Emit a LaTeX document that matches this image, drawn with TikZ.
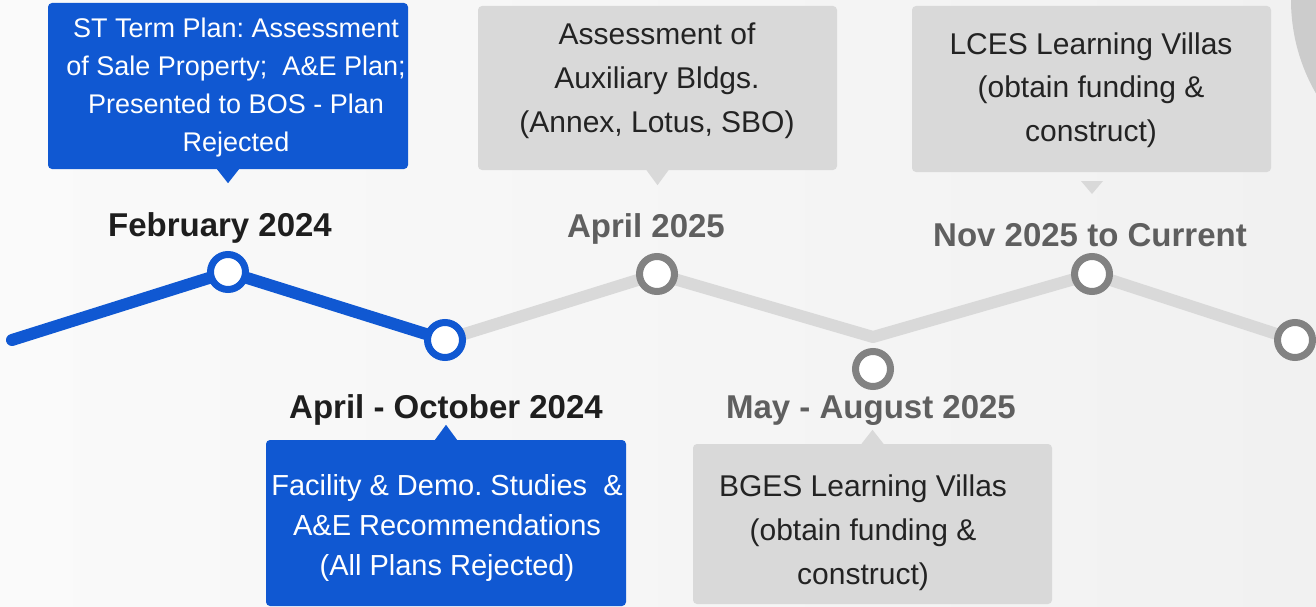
\documentclass[tikz,border=0pt]{standalone}
\usepackage{fontspec}
\setmainfont{Liberation Sans}
\frenchspacing
\usetikzlibrary{positioning}
\tikzstyle{timeline} = [x = 1pt, y = -1pt]
\definecolor{planBlue}{RGB}{16,88,210}
\definecolor{boxGray}{RGB}{217,217,217}
\definecolor{dotGray}{RGB}{130,130,130}
\definecolor{dateGray}{RGB}{95,95,95}
\definecolor{dateBlack}{RGB}{30,30,30}
\definecolor{textDark}{RGB}{35,35,35}
\definecolor{bgLeft}{RGB}{250,250,250}
\definecolor{bgRight}{RGB}{241,241,241}
\definecolor{cornerGray}{RGB}{204,204,204}
\tikzstyle{blueLine} = [color=planBlue, line width=12pt, line cap=round, line join=round]
\tikzstyle{grayLine} = [color=boxGray, line width=12pt, line join=round]
\tikzstyle{dotStyle} = [circle, fill=white, line width=7pt, minimum size=35pt, inner sep=0pt]
\tikzstyle{blueDot} = [dotStyle, draw=planBlue]
\tikzstyle{grayDot} = [dotStyle, draw=dotGray]
\tikzstyle{blueBox} = [fill=planBlue, rounded corners=4pt, inner sep=0pt]
\tikzstyle{grayBox} = [fill=boxGray, rounded corners=4pt, inner sep=0pt]
\tikzstyle{dateText} = [font=\fontsize{33}{40}\selectfont\bfseries, anchor=base, inner sep=0pt]
\tikzstyle{boxText} = [align=center, inner sep=0pt]
\newcommand{\calloutBox}[6]{\node [#2, minimum width=#5pt, minimum height=#6pt] (#1) at (#3,#4) {};}
\newcommand{\pointer}[3]{\fill [#1] ([xshift=-11pt]#2) -- ([xshift=11pt]#2) -- ([yshift=#3]#2) -- cycle;}

\begin{document}
\begin{tikzpicture}[timeline]
  \useasboundingbox (0,0) rectangle (1316,607);
  \shade [left color=bgLeft, right color=bgRight] (0,0) rectangle (1316,607);
  \begin{scope}
    \clip (0,0) rectangle (1316,607);
    \fill [cornerGray] (1478,0) circle (187pt);
  \end{scope}
  % timeline points
  \coordinate (lineStart) at (12,340);
  \coordinate (feb) at (228,272);
  \coordinate (aprOct) at (445,340);
  \coordinate (apr25) at (657,274);
  \coordinate (valley) at (873,337);
  \coordinate (mayAug) at (873,369);
  \coordinate (nov25) at (1092,274);
  \coordinate (lineEnd) at (1295,340);
  \draw [grayLine] (aprOct) -- (apr25) -- (valley) -- (nov25) -- (lineEnd);
  \draw [blueLine] (lineStart) -- (feb) -- (aprOct);
  \node [blueDot] (febDot) at (feb) {};
  \node [blueDot] (aprOctDot) at (aprOct) {};
  \node [grayDot] (apr25Dot) at (apr25) {};
  \node [grayDot] (mayAugDot) at (mayAug) {};
  \node [grayDot] (nov25Dot) at (nov25) {};
  \node [grayDot] (endDot) at (lineEnd) {};
  % callouts
  \calloutBox{febBox}{blueBox}{228}{86}{360}{166}
  \pointer{planBlue}{febBox.south}{-14pt}
  \calloutBox{aprOctBox}{blueBox}{446}{523}{360}{166}
  \pointer{planBlue}{aprOctBox.north}{15pt}
  \calloutBox{apr25Box}{grayBox}{657.5}{88}{359}{164}
  \pointer{boxGray}{apr25Box.south}{-15pt}
  \calloutBox{mayAugBox}{grayBox}{872.5}{524}{359}{160}
  \pointer{boxGray}{mayAugBox.north}{14pt}
  \calloutBox{novBox}{grayBox}{1091.5}{89}{359}{166}
  \coordinate (novTip) at (1092,181);
  \pointer{boxGray}{novTip}{-13pt}
  \node [boxText, text=white, font=\fontsize{27}{38}\selectfont] (febText) at (236,88)
    {ST Term Plan: Assessment\\of Sale Property;\ \ A\&E Plan;\\Presented to BOS - Plan\\Rejected};
  \node [boxText, text=white, font=\fontsize{29}{40}\selectfont] (aprOctText) at (447,528)
    {Facility \& Demo. Studies\ \ \&\\A\&E Recommendations\\(All Plans Rejected)};
  \node [boxText, text=textDark, font=\fontsize{30}{44}\selectfont] (apr25Text) at (657,81)
    {Assessment of\\Auxiliary Bldgs.\\(Annex, Lotus, SBO)};
  \node [boxText, text=textDark, font=\fontsize{30}{43.5}\selectfont] (novText) at (1091,90)
    {LCES Learning Villas\\(obtain funding \&\\construct)};
  \node [boxText, text=textDark, font=\fontsize{30}{44}\selectfont] (mayAugText) at (863,533)
    {BGES Learning Villas\\(obtain funding \&\\construct)};
  % dates
  \node [dateText, text=dateBlack] (febDate) at (220,236) {February 2024};
  \node [dateText, text=dateBlack] (aprOctDate) at (446,418) {April - October 2024};
  \node [dateText, text=dateGray] (apr25Date) at (646,237) {April 2025};
  \node [dateText, text=dateGray] (novDate) at (1090,246) {Nov 2025 to Current};
  \node [dateText, text=dateGray] (mayAugDate) at (871,418) {May - August 2025};
\end{tikzpicture}
\end{document}
